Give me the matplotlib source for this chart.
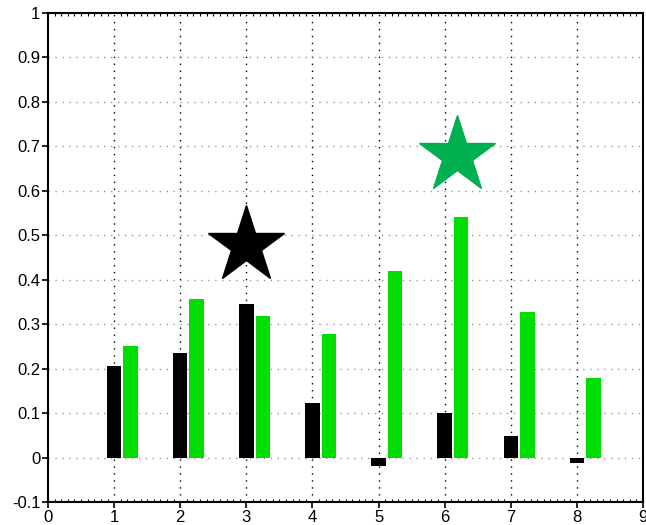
import matplotlib
matplotlib.use("Agg")
import matplotlib.pyplot as plt
import numpy as np
from matplotlib.ticker import MultipleLocator, FuncFormatter

plt.rcParams['font.family'] = ['Liberation Sans', 'DejaVu Sans']

categories = [1, 2, 3, 4, 5, 6, 7, 8]
black_vals = [0.205, 0.235, 0.345, 0.122, -0.018, 0.100, 0.048, -0.013]
green_vals = [0.250, 0.357, 0.318, 0.277, 0.420, 0.540, 0.327, 0.180]
star_black = (3.0, 0.478)
star_green = (6.18, 0.68)

fig = plt.figure(figsize=(6.46, 5.25), dpi=100)
ax = fig.add_axes([48/646, 23/525, 595/646, 489/525])

x = np.array(categories, dtype=float)
ax.bar(x, black_vals, width=0.22, color="black", zorder=3)
ax.bar(x + 0.25, green_vals, width=0.22, color="#00dd00", zorder=3)

ax.plot([star_black[0]], [star_black[1]], marker="*", markersize=58,
        color="black", linestyle="none", zorder=4)
ax.plot([star_green[0]], [star_green[1]], marker="*", markersize=58,
        color="#00b050", linestyle="none", zorder=4)

ax.set_xlim(0, 9)
ax.set_ylim(-0.1, 1)
ax.xaxis.set_major_locator(MultipleLocator(1))
ax.yaxis.set_major_locator(MultipleLocator(0.1))
ax.xaxis.set_minor_locator(MultipleLocator(0.1))
ax.yaxis.set_major_formatter(FuncFormatter(lambda v, p: f"{round(v, 1):g}"))

for xv in range(1, 9):
    ax.axvline(xv, color="black", linestyle=(0, (1, 4)), linewidth=1, zorder=1)
for yv in np.arange(0, 1.0, 0.1):
    ax.axhline(yv, color="#999999", linestyle=(0, (1, 4)), linewidth=1, zorder=1)

for s in ax.spines.values():
    s.set_linewidth(1.5)
ax.tick_params(which="major", direction="out", length=4, width=1.2, labelsize=12,
               pad=1.5, top=False, right=False)
ax.tick_params(axis="x", which="minor", direction="in", length=2, width=0.8,
               top=True, bottom=True)
ax.tick_params(axis="y", which="minor", left=False)

fig.savefig("out.png", dpi=100)
